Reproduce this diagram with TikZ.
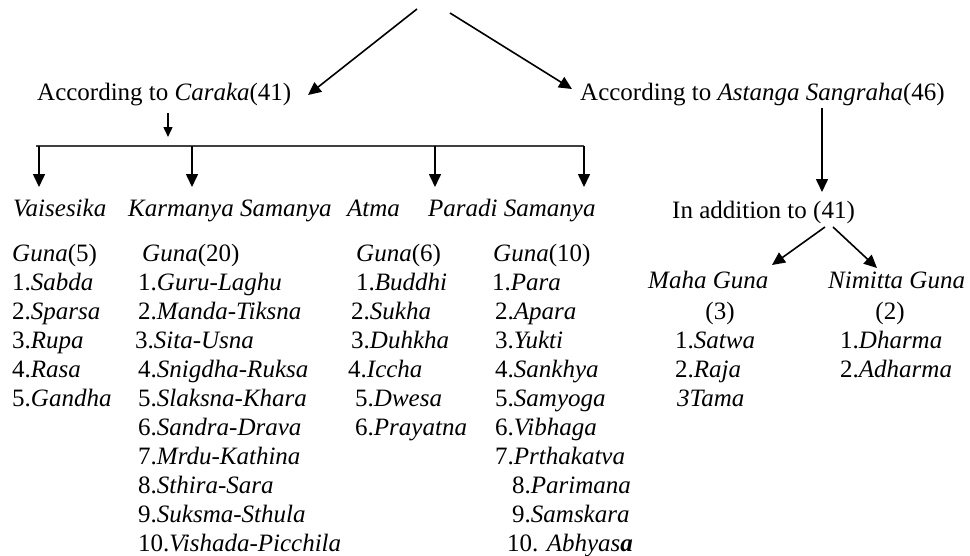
\documentclass[tikz,border=0pt]{standalone}
\usepackage{fontspec}
\setmainfont{Liberation Serif}
\usetikzlibrary{arrows.meta,calc}
\begin{document}
\begin{tikzpicture}[x=1pt,y=-1pt,
  txt/.style={anchor=base west,inner sep=0pt,font=\fontsize{25}{29}\selectfont},
  ctxt/.style={anchor=base,inner sep=0pt,font=\fontsize{25}{29}\selectfont},
  arr/.style={-{Triangle[length=13pt,width=12pt]},line width=1.6pt},
  sarr/.style={-{Triangle[length=10pt,width=9pt]},line width=1.4pt},
  busline/.style={line width=1.1pt,draw=black!75}]
\useasboundingbox (0,0) rectangle (970,555);

% top level
\node[txt] (caraka) at (37,100) {According to \textit{Caraka}(41)};
\node[txt] (astanga) at (580,100) {According to \textit{Astanga Sangraha}(46)};
\coordinate (topL) at (417,9);
\coordinate (topR) at (450,13);
\coordinate (tipL) at (308,95);
\coordinate (tipR) at (572,89);
\draw[arr] (topL) -- (tipL);
\draw[arr] (topR) -- (tipR);

% Caraka branch
\coordinate (cs) at (168,113);
\coordinate (ce) at (168,137);
\draw[sarr] (cs) -- (ce);
\coordinate (busL) at (36,146);
\coordinate (busR) at (584,146);
\draw[busline] (busL) -- (busR);
\foreach \i/\x in {1/39,2/192,3/435,4/584}{
  \coordinate (b\i) at (\x,146);
  \coordinate (t\i) at (\x,187);
  \draw[arr] (b\i) -- (t\i);
}

% column headings
\node[txt] (v0) at (13,216) {\textit{Vaisesika}};
\node[txt] (k0) at (128,216) {\textit{Karmanya Samanya}};
\node[txt] (a0) at (347,216) {\textit{Atma}};
\node[txt] (p0) at (428,216) {\textit{Paradi Samanya}};

% Vaisesika
\node[txt] (vg) at (12,261) {\textit{Guna}(5)};
\node[txt] (v1) at (12,290) {1.\textit{Sabda}};
\node[txt] (v2) at (12,319) {2.\textit{Sparsa}};
\node[txt] (v3) at (12,348) {3.\textit{Rupa}};
\node[txt] (v4) at (12,377) {4.\textit{Rasa}};
\node[txt] (v5) at (12,406) {5.\textit{Gandha}};

% Karmanya Samanya
\node[txt] (kg) at (142,261) {\textit{Guna}(20)};
\node[txt] (k1) at (138,290) {1.\textit{Guru-Laghu}};
\node[txt] (k2) at (138,319) {2.\textit{Manda-Tiksna}};
\node[txt] (k3) at (135,348) {3.\textit{Sita-Usna}};
\node[txt] (k4) at (138,377) {4.\textit{Snigdha-Ruksa}};
\node[txt] (k5) at (138,406) {5.\textit{Slaksna-Khara}};
\node[txt] (k6) at (138,435) {6.\textit{Sandra-Drava}};
\node[txt] (k7) at (138,464) {7.\textit{Mrdu-Kathina}};
\node[txt] (k8) at (138,493) {8.\textit{Sthira-Sara}};
\node[txt] (k9) at (138,522) {9.\textit{Suksma-Sthula}};
\node[txt] (k10) at (138,551) {10.\textit{Vishada-Picchila}};

% Atma
\node[txt] (ag) at (356,261) {\textit{Guna}(6)};
\node[txt] (a1) at (356,290) {1.\textit{Buddhi}};
\node[txt] (a2) at (351,319) {2.\textit{Sukha}};
\node[txt] (a3) at (351,348) {3.\textit{Duhkha}};
\node[txt] (a4) at (348,377) {4.\textit{Iccha}};
\node[txt] (a5) at (355,406) {5.\textit{Dwesa}};
\node[txt] (a6) at (355,435) {6.\textit{Prayatna}};

% Paradi Samanya
\node[txt] (pg) at (493,261) {\textit{Guna}(10)};
\node[txt] (p1) at (492,290) {1.\textit{Para}};
\node[txt] (p2) at (495,319) {2.\textit{Apara}};
\node[txt] (p3) at (495,348) {3.\textit{Yukti}};
\node[txt] (p4) at (495,377) {4.\textit{Sankhya}};
\node[txt] (p5) at (495,406) {5.\textit{Samyoga}};
\node[txt] (p6) at (495,435) {6.\textit{Vibhaga}};
\node[txt] (p7) at (495,464) {7.\textit{Prthakatva}};
\node[txt] (p8) at (512,493) {8.\textit{Parimana}};
\node[txt] (p9) at (512,522) {9.\textit{Samskara}};
\node[txt] (p10) at (507,551) {10. \textit{Abhyas\textbf{a}}};

% Astanga branch
\coordinate (as) at (822,108);
\coordinate (ae) at (822,192);
\draw[arr] (as) -- (ae);
\node[txt] (add) at (672,218) {In addition to (41)};
\coordinate (addL) at (825,227);
\coordinate (addR) at (833,227);
\coordinate (mtip) at (772,265);
\coordinate (ntip) at (877,268);
\draw[arr] (addL) -- (mtip);
\draw[arr] (addR) -- (ntip);

\node[txt] (maha) at (648,288) {\textit{Maha Guna}};
\node[ctxt] (mahan) at (720,319) {(3)};
\node[txt] (m1) at (675,348) {1.\textit{Satwa}};
\node[txt] (m2) at (675,377) {2.\textit{Raja}};
\node[txt] (m3) at (677,406) {\textit{3Tama}};

\node[txt] (nim) at (828,288) {\textit{Nimitta Guna}};
\node[ctxt] (nimn) at (890,319) {(2)};
\node[txt] (n1) at (840,348) {1.\textit{Dharma}};
\node[txt] (n2) at (840,377) {2.\textit{Adharma}};
\end{tikzpicture}
\end{document}
